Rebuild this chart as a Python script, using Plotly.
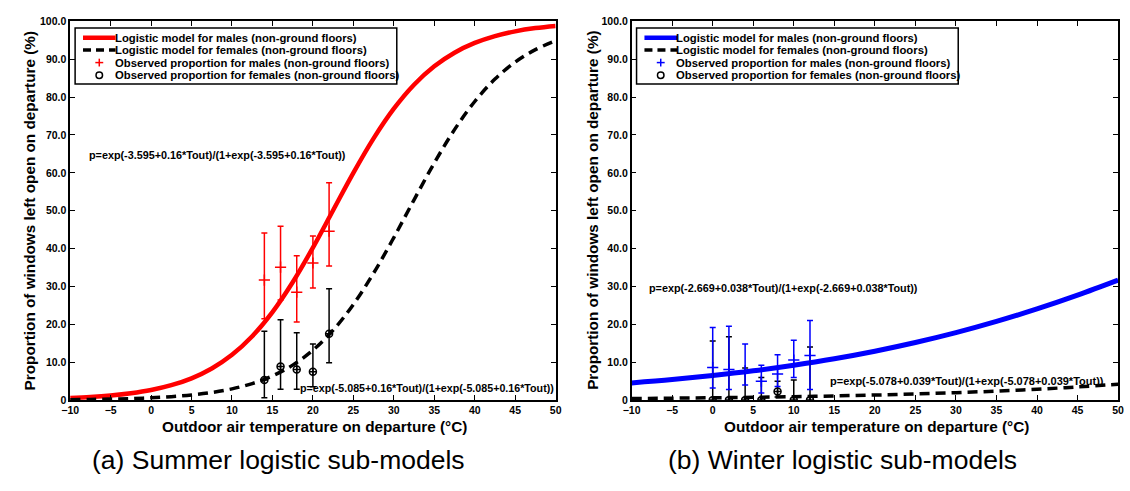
import plotly.graph_objects as go

W, H = 1130, 491
FONT = "Liberation Sans, Arial, sans-serif"

# ---------------- data ----------------
x_ticks = [-10, -5, 0, 5, 10, 15, 20, 25, 30, 35, 40, 45, 50]
y_ticks = [0, 10, 20, 30, 40, 50, 60, 70, 80, 90, 100]
y_tick_text = ["0", "10.0", "20.0", "30.0", "40.0", "50.0", "60.0", "70.0", "80.0", "90.0", "100.0"]

# Summer logistic model curves
summer_curve_T = [-10, -7.5, -5, -2.5, 0, 2.5, 5, 7.5, 10, 12.5, 15, 17.5, 20,
                  22.5, 25, 27.5, 30, 32.5, 35, 37.5, 40, 42.5, 45, 47.5, 50]
summer_male_curve = [0.55, 0.82, 1.22, 1.81, 2.67, 3.94, 5.76, 8.36, 11.97, 16.87, 23.24, 31.11, 40.25,
                     50.12, 59.99, 69.10, 76.94, 83.27, 88.13, 91.72, 94.29, 96.10, 97.35, 98.21, 98.79]
summer_female_curve = [0.12, 0.19, 0.28, 0.41, 0.62, 0.91, 1.36, 2.01, 2.97, 4.37, 6.39, 9.24, 13.18,
                       18.47, 25.26, 33.52, 42.92, 52.87, 62.60, 71.40, 78.84, 84.75, 89.23, 92.52, 94.86]

# Winter logistic model curves
winter_curve_T = [-10, -5, 0, 5, 10, 15, 20, 25, 30, 35, 40, 45, 50]
winter_male_curve = [4.53, 5.42, 6.48, 7.73, 9.21, 10.92, 12.91, 15.20, 17.81, 20.77, 24.07, 27.71, 31.67]
winter_female_curve = [0.42, 0.51, 0.62, 0.75, 0.91, 1.11, 1.34, 1.62, 1.97, 2.38, 2.88, 3.48, 4.20]

# Summer observed proportions
summer_T = [14, 16, 18, 20, 22]
summer_m = [31.7, 35.1, 28.5, 36.2, 44.6]
summer_m_hi = [44.1, 45.9, 38.1, 43.3, 57.4]
summer_m_lo = [21.5, 26.4, 20.6, 29.6, 35.4]
summer_f = [5.3, 8.9, 8.1, 7.5, 17.5]
summer_f_hi = [18.2, 21.2, 17.8, 14.8, 29.4]
summer_f_lo = [0.6, 2.9, 2.9, 3.5, 9.9]

# Winter observed proportions
winter_T = [0, 2, 4, 6, 8, 10, 12]
winter_m = [8.6, 8.1, 7.7, 5.0, 6.9, 10.6, 11.8]
winter_m_hi = [19.2, 19.5, 14.8, 9.2, 12.0, 15.8, 21.0]
winter_m_lo = [3.2, 2.8, 4.0, 1.9, 3.6, 6.0, 2.8]
winter_f = [0, 0, 0, 0, 2.3, 0, 0]
winter_f_hi = [15.6, 16.7, 8.5, 6.0, 5.0, 5.3, 14.0]
winter_f_lo = [0, 0, 0, 0, 0.8, 0, 0]

eq_texts = [
    "p=exp(-3.595+0.16*Tout)/(1+exp(-3.595+0.16*Tout))",
    "p=exp(-5.085+0.16*Tout)/(1+exp(-5.085+0.16*Tout))",
    "p=exp(-2.669+0.038*Tout)/(1+exp(-2.669+0.038*Tout))",
    "p=exp(-5.078+0.039*Tout)/(1+exp(-5.078+0.039*Tout))",
]
legend_labels = [
    "Logistic model for males (non-ground floors)",
    "Logistic model for females (non-ground floors)",
    "Observed proportion for males (non-ground floors)",
    "Observed proportion for females (non-ground floors)",
]
captions = ["(a) Summer logistic sub-models", "(b) Winter logistic sub-models"]
x_title = "Outdoor air temperature on departure (°C)"
y_title = "Proportion of windows left open on departure (%)"

RED, BLUE, BLACK = "#ff0000", "#0000ff", "#000000"


def px(x):
    return x / W


def py(y):
    return 1 - y / H


def err(vals, hi, lo, color):
    return dict(type="data", symmetric=False,
                array=[h - v for h, v in zip(hi, vals)],
                arrayminus=[v - l for v, l in zip(vals, lo)],
                color=color, thickness=1.5, width=3)


fig = go.Figure()

# ---- summer panel ----
fig.add_trace(go.Scatter(x=summer_curve_T, y=summer_male_curve, mode="lines", line_shape="spline",
                         line=dict(color=RED, width=4.5), xaxis="x", yaxis="y", showlegend=False))
fig.add_trace(go.Scatter(x=summer_curve_T, y=summer_female_curve, mode="lines", line_shape="spline",
                         line=dict(color=BLACK, width=3.5, dash="10px,6px"), xaxis="x", yaxis="y",
                         showlegend=False))
fig.add_trace(go.Scatter(x=summer_T, y=summer_m, mode="markers",
                         marker=dict(symbol="cross-thin-open", size=8, color=RED,
                                     line=dict(color=RED, width=1.5)),
                         error_y=err(summer_m, summer_m_hi, summer_m_lo, RED),
                         xaxis="x", yaxis="y", showlegend=False))
fig.add_trace(go.Scatter(x=summer_T, y=summer_f, mode="markers",
                         marker=dict(symbol="circle-cross-open", size=7, color=BLACK,
                                     line=dict(color=BLACK, width=1.5)),
                         error_y=err(summer_f, summer_f_hi, summer_f_lo, BLACK),
                         xaxis="x", yaxis="y", showlegend=False))

# ---- winter panel ----
fig.add_trace(go.Scatter(x=winter_curve_T, y=winter_male_curve, mode="lines", line_shape="spline",
                         line=dict(color=BLUE, width=5), xaxis="x2", yaxis="y2", showlegend=False))
fig.add_trace(go.Scatter(x=winter_curve_T, y=winter_female_curve, mode="lines", line_shape="spline",
                         line=dict(color=BLACK, width=3.5, dash="10px,6px"), xaxis="x2", yaxis="y2",
                         showlegend=False))
fig.add_trace(go.Scatter(x=winter_T, y=winter_f, mode="markers",
                         marker=dict(symbol="circle-cross-open", size=7, color=BLACK,
                                     line=dict(color=BLACK, width=1.5)),
                         error_y=err(winter_f, winter_f_hi, winter_f_lo, BLACK),
                         xaxis="x2", yaxis="y2", showlegend=False))
fig.add_trace(go.Scatter(x=winter_T, y=winter_m, mode="markers",
                         marker=dict(symbol="cross-thin-open", size=8, color=BLUE,
                                     line=dict(color=BLUE, width=1.5)),
                         error_y=err(winter_m, winter_m_hi, winter_m_lo, BLUE),
                         xaxis="x2", yaxis="y2", showlegend=False))

# ---- axes ----
TOP, BOT = 15.7, 404
panels = [(62, 554), (631, 1124)]
tickfont = dict(family=FONT, size=10.5, color=BLACK, weight="bold")


def xaxis(dom, anchor):
    return dict(domain=dom, anchor=anchor, range=[-10, 50], tickvals=x_ticks,
                ticks="inside", ticklen=5, tickwidth=1, tickcolor=BLACK, mirror="ticks",
                showline=True, linecolor=BLACK, linewidth=1.5, showgrid=False, zeroline=False,
                ticklabelstandoff=0, tickfont=tickfont)


def yaxis(dom, anchor):
    return dict(domain=dom, anchor=anchor, range=[0, 100], tickvals=y_ticks, ticktext=y_tick_text,
                ticks="inside", ticklen=5, tickwidth=1, tickcolor=BLACK, mirror="ticks",
                showline=True, linecolor=BLACK, linewidth=1.5, showgrid=False, zeroline=False,
                tickfont=tickfont)


ydom = [py(BOT), py(TOP)]
fig.update_layout(
    xaxis=xaxis([px(panels[0][0]), px(panels[0][1])], "y"),
    yaxis=yaxis(ydom, "x"),
    xaxis2=xaxis([px(panels[1][0]), px(panels[1][1])], "y2"),
    yaxis2=yaxis(ydom, "x2"),
)

annotations = []
shapes = []
bold = dict(family=FONT, size=15.3, color=BLACK, weight="bold")
cap_centers = [273, 845]
for i, (l, r) in enumerate(panels):
    cx = (l + r) / 2
    annotations.append(dict(x=px(cx + 2), y=py(431), xref="paper", yref="paper", text=x_title,
                            showarrow=False, font=bold, xanchor="center", yanchor="middle"))
    annotations.append(dict(x=px(21 if i == 0 else 592), y=py((TOP + BOT) / 2), xref="paper",
                            yref="paper", text=y_title, textangle=-90, showarrow=False, font=bold,
                            xanchor="center", yanchor="middle"))
    annotations.append(dict(x=px(cap_centers[i]), y=py(465), xref="paper", yref="paper",
                            text=captions[i], showarrow=False,
                            font=dict(family=FONT, size=26.5, color=BLACK),
                            xanchor="center", yanchor="middle"))

    # legend (manual, compact rows like the original)
    bx0, bx1, by0, by1 = l + 5, l + 331, 22.5, 80
    shapes.append(dict(type="rect", xref="paper", yref="paper", x0=px(bx0), x1=px(bx1),
                       y0=py(by1), y1=py(by0), line=dict(color=BLACK, width=1.5), fillcolor="white",
                       layer="above"))
    rows = [32.5, 45, 58, 71]
    lx0, lx1, tx = l + 13, l + 46, l + 43
    col = RED if i == 0 else BLUE
    shapes.append(dict(type="line", xref="paper", yref="paper", x0=px(lx0), x1=px(lx1),
                       y0=py(rows[0]), y1=py(rows[0]), line=dict(color=col, width=4.5), layer="above"))
    shapes.append(dict(type="line", xref="paper", yref="paper", x0=px(lx0), x1=px(lx1),
                       y0=py(rows[1]), y1=py(rows[1]), line=dict(color=BLACK, width=3.5, dash="8px,5px"),
                       layer="above"))
    mx = (lx0 + lx1) / 2
    shapes.append(dict(type="line", xref="paper", yref="paper", x0=px(mx - 4), x1=px(mx + 4),
                       y0=py(rows[2]), y1=py(rows[2]), line=dict(color=col, width=1.5), layer="above"))
    shapes.append(dict(type="line", xref="paper", yref="paper", x0=px(mx), x1=px(mx),
                       y0=py(rows[2] - 4), y1=py(rows[2] + 4), line=dict(color=col, width=1.5), layer="above"))
    shapes.append(dict(type="circle", xref="paper", yref="paper", x0=px(mx - 3.3), x1=px(mx + 3.3),
                       y0=py(rows[3] + 3.3), y1=py(rows[3] - 3.3), line=dict(color=BLACK, width=1.5),
                       layer="above"))
    for r_, lab in zip(rows, legend_labels):
        annotations.append(dict(x=px(tx), y=py(r_), xref="paper", yref="paper", text=lab,
                                showarrow=False, xanchor="left", yanchor="middle",
                                font=dict(family=FONT, size=11.3, color=BLACK, weight="bold")))

eq_pos = [(79, 153, 10.8), (293, 392, 10.7), (647, 289, 10.8), (830, 384, 11.0)]
for (ex, ey, fs), t in zip(eq_pos, eq_texts):
    annotations.append(dict(x=px(ex), y=py(ey), xref="paper", yref="paper", text=t, showarrow=False,
                            xanchor="left", yanchor="middle",
                            font=dict(family=FONT, size=fs, color=BLACK, weight="bold")))

fig.update_layout(
    width=W, height=H, margin=dict(l=0, r=0, t=0, b=0),
    paper_bgcolor="white", plot_bgcolor="white",
    annotations=annotations, shapes=shapes, showlegend=False,
    font=dict(family=FONT, color=BLACK),
)

fig.write_html("out.html")
